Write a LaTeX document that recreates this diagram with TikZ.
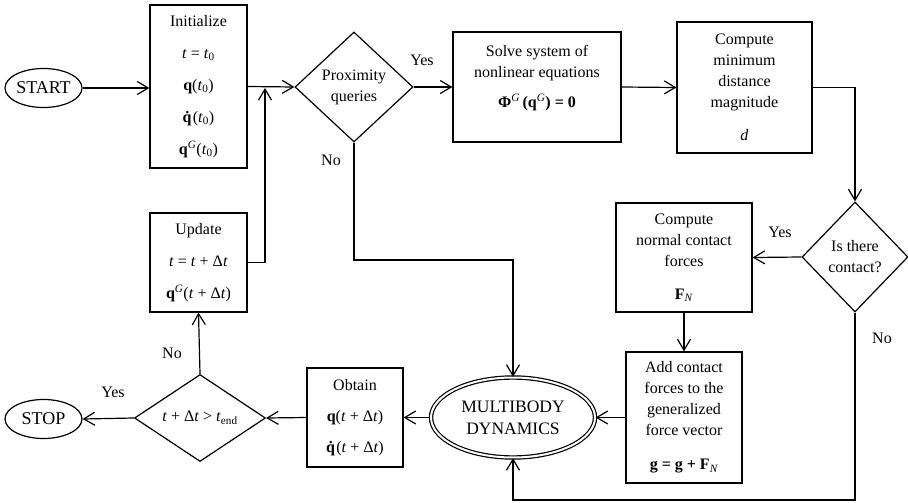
\documentclass[tikz,border=0pt]{standalone}
\usepackage{fontspec}
\setmainfont{Liberation Serif}
\usetikzlibrary{shapes.geometric,arrows.meta}
\newcommand{\qdotb}{\textbf{q^^^^0307}}
\begin{document}
\begin{tikzpicture}[x=1pt,y=-1pt,
  font=\fontsize{16}{21}\selectfont,
  line width=1.2pt,
  >={Straight Barb[length=11pt,width=13pt]},
  box/.style={draw, rectangle, inner sep=0pt, align=center},
  term/.style={draw, ellipse, minimum width=77pt, minimum height=39pt, inner sep=0pt, font=\fontsize{18}{21}\selectfont},
  dec/.style={draw, diamond, inner sep=0pt, align=center},
  lbl/.style={inner sep=0pt}]
\useasboundingbox (0,0) rectangle (908,503);

\node[term] (start) at (43.5,88) {START};
\node[box, minimum width=97pt, minimum height=163pt] (init) at (198.5,86.5)
  {Initialize\\[11pt] \textit{t} = \textit{t}\textsubscript{0}\\[11pt] \textbf{q}(\textit{t}\textsubscript{0})\\[11pt] \qdotb(\textit{t}\textsubscript{0})\\[11pt] \textbf{q}\textsuperscript{\textit{G}}(\textit{t}\textsubscript{0})};
\node[dec, minimum width=118pt, minimum height=110pt] (prox) at (354,87) {Proximity\\queries};
\node[box, minimum width=168pt, minimum height=110pt] (solve) at (537,87)
  {Solve system of\\nonlinear equations\\[9pt] \textbf{Φ}\textsuperscript{\textit{G}}\,\textbf{(q}\textsuperscript{\textit{G}}\textbf{) = 0}\\ \mbox{}};
\node[box, minimum width=135pt, minimum height=131pt] (comp) at (744.5,87.5)
  {Compute\\minimum\\distance\\magnitude\\[12pt]\textit{d}};
\node[dec, minimum width=106pt, minimum height=110pt] (contact) at (855,257) {Is there\\contact?};
\node[box, minimum width=136pt, minimum height=109pt] (normal) at (684,257.5)
  {Compute\\normal contact\\forces\\[12pt]\textbf{F}\textsubscript{\textit{N}}};
\node[box, minimum width=116pt, minimum height=131pt] (add) at (684,417.5)
  {Add contact\\forces to the\\generalized\\force vector\\[13pt]\textbf{g = g + F}\textsubscript{\textit{N}}};
\node[draw, ellipse, double, double distance=2pt, minimum width=164pt, minimum height=80pt, inner sep=0pt, align=center, font=\fontsize{17.5}{22}\selectfont] (mb) at (513,417.5)
  {MULTIBODY\\DYNAMICS};
\node[box, minimum width=96pt, minimum height=99pt] (obtain) at (355,417.5)
  {Obtain\\[10pt]\textbf{q}(\textit{t} + Δ\textit{t})\\[10pt]\qdotb(\textit{t} + Δ\textit{t})};
\node[dec, minimum width=131pt, minimum height=87pt, shape aspect=1.5] (tend) at (200,418)
  {\textit{t} + Δ\textit{t} > \textit{t}\textsubscript{end}};
\node[box, minimum width=97pt, minimum height=99pt] (update) at (198.5,262.5)
  {Update\\[11pt]\textit{t} = \textit{t} + Δ\textit{t}\\[11pt]\textbf{q}\textsuperscript{\textit{G}}(\textit{t} + Δ\textit{t})};
\node[term] (stop) at (43.5,419) {STOP};

\coordinate (j) at (265,88);
\coordinate (c1) at (855,500);
\coordinate (p1) at (354,260);

\draw[->] (start.east) -- (start.east -| init.west);
\draw[->] (init.east) -- (prox.west);
\draw[->] (update.east) -| (j);
\draw[->] (prox.east) -- (solve.west);
\draw[->] (solve.east) -- (comp.west);
\draw[->] (comp.east) -| (contact.north);
\draw[->] (contact.west) -- (normal.east);
\draw[->] (normal.south) -- (add.north);
\draw[->] (add.west) -- (mb.east);
\draw[->] (contact.south) -- (c1) -| (mb.south);
\draw[->] (prox.south) -- (p1) -| (mb.north);
\draw[->] (mb.west) -- (obtain.east);
\draw[->] (obtain.west) -- (tend.east);
\draw[->] (tend.north) -- (update.south);
\draw[->] (tend.west) -- (stop.east);

\node[lbl] at (422,60) {Yes};
\node[lbl] at (331,160) {No};
\node[lbl] at (780,232) {Yes};
\node[lbl] at (882,338) {No};
\node[lbl] at (172,353) {No};
\node[lbl] at (113,392) {Yes};
\end{tikzpicture}
\end{document}
